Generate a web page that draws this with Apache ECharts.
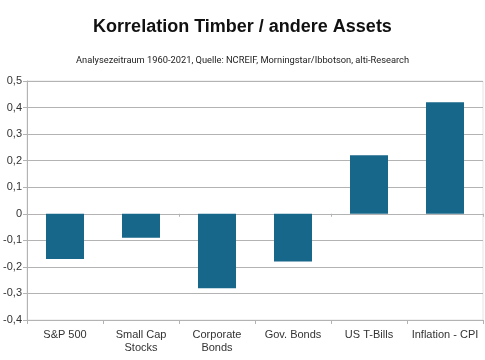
<!DOCTYPE html>
<html><head><meta charset="utf-8">
<script src="https://cdn.jsdelivr.net/npm/echarts@6/dist/echarts.min.js"></script>
<style>html,body{margin:0;padding:0;background:#fff}#c{width:485px;height:360px}</style>
</head><body><div id="c"></div>
<script>
const categories = ['S&P 500', 'Small Cap\nStocks', 'Corporate\nBonds', 'Gov. Bonds', 'US T-Bills', 'Inflation - CPI'];
const values = [-0.17, -0.09, -0.28, -0.18, 0.22, 0.42];
const yTicks = [-0.4, -0.3, -0.2, -0.1, 0, 0.1, 0.2, 0.3, 0.4, 0.5];
const titleText = 'Korrelation Timber / andere Assets';
const subtitleText = 'Analysezeitraum 1960-2021, Quelle: NCREIF, Morningstar/Ibbotson, alti-Research';

const chart = echarts.init(document.getElementById('c'), null, {renderer: 'canvas'});
chart.setOption({
  animation: false,
  backgroundColor: '#fff',
  title: [
    {text: titleText, left: 'center', top: 13,
     textStyle: {fontFamily: 'Liberation Sans', fontSize: 18, fontWeight: 'bold', color: '#111'}},
    {text: subtitleText, left: 'center', top: 51,
     textStyle: {fontFamily: 'Roboto', fontSize: 9.3, fontWeight: 'normal', color: '#222'}}
  ],
  grid: {left: 27, right: 2, top: 81, bottom: 40, show: true, borderColor: '#e4e4e4', borderWidth: 1},
  xAxis: [
    {type: 'category', data: categories, position: 'bottom',
     axisLine: {show: false, onZero: false},
     axisTick: {show: true, alignWithLabel: false, length: 4, lineStyle: {color: '#b3b3b3'}},
     axisLabel: {fontFamily: 'Liberation Sans', fontSize: 11, color: '#333', margin: 8, lineHeight: 13, interval: 0}},
    {type: 'category', data: categories, position: 'bottom',
     axisLine: {show: true, onZero: true, lineStyle: {color: '#b3b3b3'}},
     axisTick: {show: true, length: 3, lineStyle: {color: '#b3b3b3'}},
     axisLabel: {show: false}}
  ],
  yAxis: {type: 'value', min: -0.4, max: 0.5, interval: 0.1,
    axisLine: {show: true, lineStyle: {color: '#b3b3b3'}},
    axisTick: {show: true, length: 4, lineStyle: {color: '#b3b3b3'}},
    splitLine: {show: true, lineStyle: {color: '#b3b3b3'}},
    axisLabel: {fontFamily: 'Liberation Sans', fontSize: 11, color: '#333', margin: 5,
      formatter: v => {
        const r = Math.round(v * 10) / 10;
        if (!yTicks.some(t => Math.abs(t - r) < 1e-9)) return '';
        return r === 0 ? '0' : r.toFixed(1).replace('.', ',');
      }}
  },
  series: [{
    type: 'bar', data: values, xAxisIndex: 0, barWidth: '50%',
    itemStyle: {color: '#17678a'}
  }]
});
</script></body></html>
